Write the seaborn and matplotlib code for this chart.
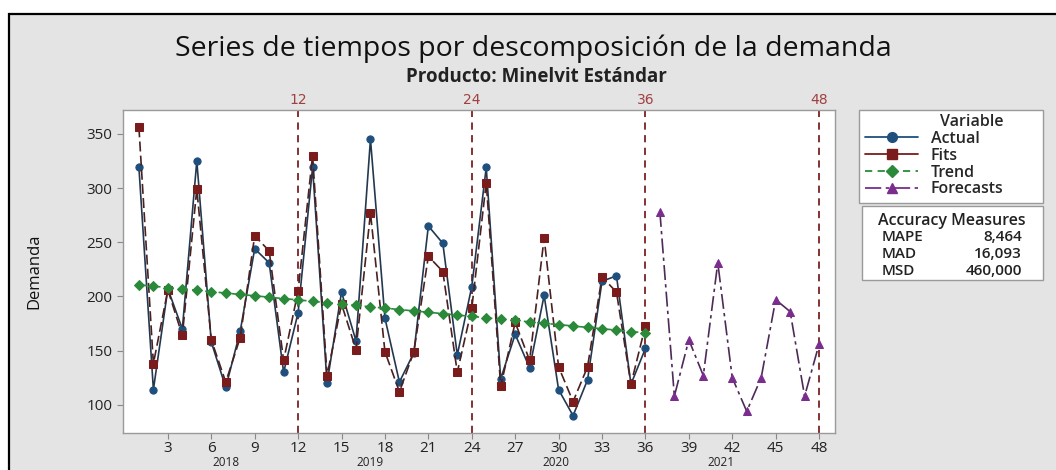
import numpy as np
import pandas as pd
import matplotlib
matplotlib.use("Agg")
import matplotlib.pyplot as plt
from matplotlib.patches import Rectangle
from matplotlib.lines import Line2D
import seaborn as sns

sns.set_style("white")
plt.rcParams['font.family'] = ['Open Sans', 'DejaVu Sans']

# ---------------- data ----------------
period_hist = list(range(1, 37))
period_fc = list(range(37, 49))

actual = [319, 114, 207, 170, 325, 158, 116, 168, 244, 231, 130, 185,
          319, 120, 204, 159, 345, 180, 121, 148, 265, 249, 146, 209,
          319, 124, 165, 134, 201, 114, 90, 123, 214, 219, 119, 152]
fits = [356, 138, 206, 164, 299, 160, 121, 162, 256, 242, 141, 205,
        330, 127, 193, 151, 277, 149, 112, 149, 237, 223, 130, 189,
        305, 117, 176, 141, 254, 135, 103, 135, 218, 204, 119, 173]
trend = [210.7, 209.4, 208.2, 206.9, 205.6, 204.4, 203.1, 201.8, 200.6,
         199.3, 198.0, 196.8, 195.5, 194.2, 193.0, 191.7, 190.4, 189.2,
         187.9, 186.6, 185.4, 184.1, 182.8, 181.6, 180.3, 179.0, 177.8,
         176.5, 175.2, 174.0, 172.7, 171.4, 170.2, 168.9, 167.6, 166.4]
forecasts = [278, 108, 160, 127, 231, 125, 94, 125, 197, 186, 108, 156]

year_lines = [12, 24, 36, 48]
year_labels = ["2018", "2019", "2020", "2021"]
year_label_pos = [7.0, 17.0, 29.8, 41.2]
x_ticks = list(range(3, 49, 3))
y_ticks = [100, 150, 200, 250, 300, 350]

measures = ["MAPE", "MAD", "MSD"]
measure_vals = ["8,464", "16,093", "460,000"]

df_hist = pd.DataFrame({"t": period_hist, "Actual": actual, "Fits": fits, "Trend": trend})
df_fc = pd.DataFrame({"t": period_fc, "Forecasts": forecasts})

# ---------------- figure ----------------
W, H = 1056, 470
fig = plt.figure(figsize=(W / 100, H / 100), dpi=100)
fig.patch.set_facecolor("white")
bg = Rectangle((9 / W, -0.05), 1.1, 1 - 14 / H + 0.05, transform=fig.transFigure,
               facecolor="#e4e4e4", edgecolor="black", linewidth=1.6, zorder=-10)
fig.patches.append(bg)

ax = fig.add_axes([123 / W, 1 - 433 / H, (835 - 123) / W, (433 - 110) / H])
ax.set_facecolor("white")

c_act_m, c_act_l = "#1f4f7c", "#23384f"
c_fit_m, c_fit_l = "#7a1c1c", "#4a2020"
c_tr = "#2a8a3a"
c_fc = "#7b2d8e"

sns.lineplot(data=df_hist, x="t", y="Actual", ax=ax, color=c_act_l, lw=1.2,
             marker="o", markersize=5.2, markerfacecolor=c_act_m, markeredgecolor=c_act_m,
             zorder=3)
sns.lineplot(data=df_hist, x="t", y="Fits", ax=ax, color=c_fit_l, lw=1.2,
             dashes=False, marker="s", markersize=5.2, markerfacecolor=c_fit_m,
             markeredgecolor=c_fit_m, zorder=4)
ax.lines[-1].set_linestyle((0, (6, 2.5)))
sns.lineplot(data=df_hist, x="t", y="Trend", ax=ax, color=c_tr, lw=1.2,
             marker="D", markersize=4.8, markerfacecolor=c_tr, markeredgecolor=c_tr, zorder=5)
ax.lines[-1].set_linestyle((0, (5, 3)))
sns.lineplot(data=df_fc, x="t", y="Forecasts", ax=ax, color="#4e2a58", lw=1.2,
             marker="^", markersize=6.2, markerfacecolor=c_fc, markeredgecolor=c_fc, zorder=3)
ax.lines[-1].set_linestyle((0, (9, 2.5, 2, 2.5)))

for xv in year_lines:
    ax.axvline(xv, color="#7a2222", lw=1.3, ls=(0, (4, 3)), zorder=2)
    ax.text(xv, 1.01, str(xv), transform=ax.get_xaxis_transform(), ha="center",
            va="bottom", color="#a04040", fontsize=10, family="DejaVu Sans")

ax.set_xlim(-0.1, 49.1)
ax.set_ylim(74, 372)
ax.set_xticks(x_ticks)
ax.set_yticks(y_ticks)
ax.tick_params(axis="x", pad=2)
ax.tick_params(axis="both", labelsize=11, length=4, width=0.8, color="#888888",
               direction="out", bottom=True, left=True, labelcolor="#222222")
for s in ax.spines.values():
    s.set_color("#9a9a9a")
    s.set_linewidth(1.0)
ax.set_xlabel("")
ax.set_ylabel("Demanda", fontsize=12, color="#111111", labelpad=32)

for lab, xp in zip(year_labels, year_label_pos):
    ax.text(xp, -0.072, lab, transform=ax.get_xaxis_transform(), ha="center",
            va="top", fontsize=8.5, color="#222222")

fig.text(533 / W, 1 - 49 / H, "Series de tiempos por descomposición de la demanda",
         ha="center", va="center", fontsize=20.5, color="#111111")
fig.text(536 / W, 1 - 77 / H, "Producto: Minelvit Estándar", ha="center", va="center",
         fontsize=13.5, fontweight="bold", color="#222222")

# legend box
lbox = Rectangle((859 / W, 1 - 203 / H), (1043 - 859) / W, (203 - 110) / H,
                 transform=fig.transFigure, facecolor="white", edgecolor="#9a9a9a", lw=1.0)
fig.patches.append(lbox)
handles = [
    Line2D([], [], color=c_act_m, lw=1.3, marker="o", markersize=7),
    Line2D([], [], color=c_fit_m, lw=1.3, marker="s", markersize=7),
    Line2D([], [], color=c_tr, lw=1.3, ls=(0, (4, 3)), marker="D", markersize=6),
    Line2D([], [], color=c_fc, lw=1.3, ls=(0, (9, 2.5, 2, 2.5)), marker="^", markersize=7.5),
]
leg = fig.legend(handles, ["Actual", "Fits", "Trend", "Forecasts"], title="Variable",
                 loc="upper left", bbox_to_anchor=(862 / W, 1 - 111 / H),
                 frameon=False, fontsize=11.5, title_fontsize=11.5,
                 handlelength=3.3, borderpad=0.2, labelspacing=0.05, handletextpad=0.8,
                 borderaxespad=0, prop={"weight": "semibold", "size": 11.5})
leg.get_title().set_fontweight("semibold")
leg._legend_box.align = "right"

# accuracy measures box
box = Rectangle((862 / W, 1 - 280 / H), (1043 - 862) / W, (280 - 206) / H,
                transform=fig.transFigure, facecolor="white", edgecolor="#9a9a9a", lw=1.0)
fig.patches.append(box)
fig.text(952 / W, 1 - 221 / H, "Accuracy Measures", ha="center", va="center",
         fontsize=11.5, fontweight="semibold", color="#222222")
for i, (m, v) in enumerate(zip(measures, measure_vals)):
    yy = 1 - (237 + i * 17) / H
    fig.text(882 / W, yy, m, ha="left", va="center", fontsize=11, fontweight="semibold",
             color="#222222")
    fig.text(1022 / W, yy, v, ha="right", va="center", fontsize=11, fontweight="semibold",
             color="#222222")

fig.savefig("out.png", dpi=100)
